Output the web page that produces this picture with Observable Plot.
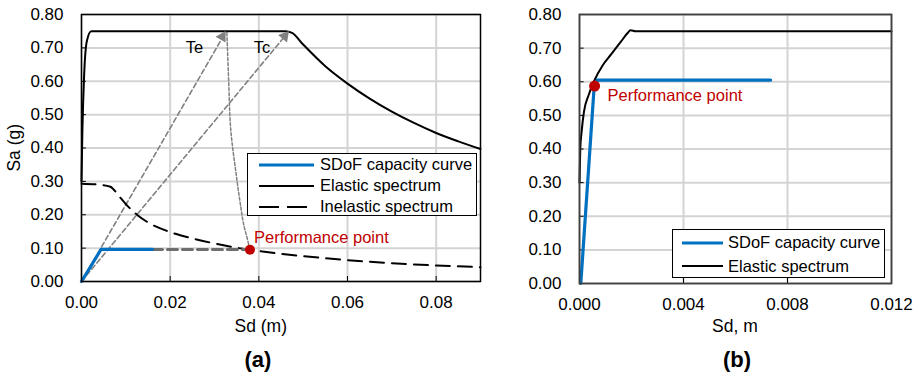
<!DOCTYPE html>
<html>
<head>
<meta charset="utf-8">
<script src="https://cdn.jsdelivr.net/npm/d3@7"></script>
<script src="https://cdn.jsdelivr.net/npm/@observablehq/plot@0.6"></script>
<style>
  html, body { margin: 0; padding: 0; background: #fff; }
  #wrap { position: relative; width: 921px; height: 377px; font-family: "Liberation Sans", Arial, sans-serif; color: #000; overflow: hidden; }
  #wrap > svg { position: absolute; top: 0; }
  .lbl { position: absolute; white-space: nowrap; font-size: 17px; line-height: 1; }
  .legend { position: absolute; border: 1.5px solid #000; background: #fff; box-sizing: border-box; }
  .legend .row { position: absolute; left: 0; height: 20px; display: flex; align-items: center; font-size: 16.5px; white-space: nowrap; }
</style>
</head>
<body>
<div id="wrap"></div>
<script>
// ---------- shared ----------
const yTicks = [0, 0.1, 0.2, 0.3, 0.4, 0.5, 0.6, 0.7, 0.8];
const xTicksA = [0, 0.02, 0.04, 0.06, 0.08];
const xTicksB = [0, 0.004, 0.008, 0.012];

// ---------- Panel (a) data ----------
const elasticA_sd = [0, 0.0002, 0.0006, 0.0012, 0.0022, 0.046, 0.0475, 0.05, 0.055, 0.06, 0.065, 0.07, 0.075, 0.08, 0.085, 0.09];
const elasticA_sa = [0.30, 0.45, 0.62, 0.72, 0.75, 0.75, 0.745, 0.71, 0.645, 0.593, 0.548, 0.509, 0.475, 0.445, 0.42, 0.397];

const inelasticA_sd = [0, 0.004, 0.0065, 0.0085, 0.01, 0.0125, 0.015, 0.02, 0.025, 0.03, 0.035, 0.038, 0.045, 0.05, 0.06, 0.07, 0.08, 0.09];
const inelasticA_sa = [0.293, 0.29, 0.284, 0.255, 0.232, 0.20, 0.177, 0.148, 0.129, 0.114, 0.101, 0.095, 0.083, 0.076, 0.064, 0.055, 0.048, 0.043];

const capA_sd = [0, 0.0044, 0.016];
const capA_sa = [0, 0.096, 0.096];

const capExtA_sd = [0.016, 0.038];
const capExtA_sa = [0.096, 0.096];

const teLine_sd = [0, 0.0322];
const teLine_sa = [0, 0.74];
const tcLine_sd = [0, 0.0462];
const tcLine_sa = [0, 0.74];
const heads_sd = [0.03175, 0.04584];
const heads_sa = [0.7335, 0.7353];
const heads_angle = [30, 40];

const tePP_sd = [0.0328, 0.0332, 0.0337, 0.0348, 0.0358, 0.0366, 0.0374, 0.038];
const tePP_sa = [0.745, 0.60, 0.45, 0.33, 0.235, 0.17, 0.128, 0.095];

const ppA = [{sd: 0.038, sa: 0.095}];
const periodLabels = [{name: "Te", sd: 0.0255, sa: 0.70}, {name: "Tc", sd: 0.0407, sa: 0.70}];

// ---------- Panel (b) data ----------
const elasticB_sd = [0, 0.00003, 0.00008, 0.00017, 0.00035, 0.00055, 0.0009, 0.0012, 0.0016, 0.00185, 0.00196, 0.00216, 0.012];
const elasticB_sa = [0.30, 0.40, 0.45, 0.51, 0.56, 0.60, 0.65, 0.68, 0.72, 0.745, 0.753, 0.75, 0.75];

const capB_sd = [0.00005, 0.00055, 0.00068, 0.00735];
const capB_sa = [0, 0.57, 0.605, 0.605];

const ppB = [{sd: 0.00058, sa: 0.587}];

const zip = (xs, ys) => xs.map((x, i) => ({sd: x, sa: ys[i]}));

const BLUE = "#0070C0", RED = "#C00000", GREY = "#808080", GRID = "#d4d4d4";
const font = "'Liberation Sans', Arial, sans-serif";

// ---------- Panel (a) ----------
const plotA = Plot.plot({
  width: 490, height: 377,
  marginLeft: 81, marginRight: 10, marginTop: 14, marginBottom: 96,
  style: {fontFamily: font, fontSize: "17px", color: "#000"},
  x: {domain: [0, 0.09]},
  y: {domain: [0, 0.8]},
  marks: [
    Plot.ruleX(xTicksA, {x: d => d, stroke: GRID, strokeWidth: 2}),
    Plot.ruleY(yTicks, {y: d => d, stroke: GRID, strokeWidth: 2}),
    Plot.axisY({ticks: yTicks, tickSize: 0, tickPadding: 18, tickFormat: d3.format(".2f"), label: null, fontSize: 17}),
    Plot.axisX({ticks: xTicksA, tickSize: 0, tickPadding: 14, tickFormat: d3.format(".2f"), label: null, fontSize: 17}),
    Plot.ruleY(yTicks, {y: d => d, x1: 0, x2: 0.0011, stroke: "#000", strokeWidth: 1}),
    Plot.ruleX(xTicksA, {x: d => d, y1: 0, y2: 0.015, stroke: "#000", strokeWidth: 1}),
    Plot.line(zip(teLine_sd, teLine_sa), {x: "sd", y: "sa", stroke: GREY, strokeWidth: 1.6, strokeDasharray: "5,3"}),
    Plot.line(zip(tcLine_sd, tcLine_sa), {x: "sd", y: "sa", stroke: GREY, strokeWidth: 1.6, strokeDasharray: "5,3"}),
    Plot.line(zip(tePP_sd, tePP_sa), {x: "sd", y: "sa", stroke: GREY, strokeWidth: 1.5, strokeDasharray: "3,2", curve: "monotone-y"}),
    Plot.line(zip(elasticA_sd, elasticA_sa), {x: "sd", y: "sa", stroke: "#000", strokeWidth: 2, curve: "monotone-x"}),
    Plot.line(zip(inelasticA_sd, inelasticA_sa), {x: "sd", y: "sa", stroke: "#000", strokeWidth: 2, strokeDasharray: "14,8", curve: "monotone-x"}),
    Plot.line(zip(capExtA_sd, capExtA_sa), {x: "sd", y: "sa", stroke: "#6e6e6e", strokeWidth: 3, strokeDasharray: "10,5"}),
    Plot.line(zip(capA_sd, capA_sa), {x: "sd", y: "sa", stroke: BLUE, strokeWidth: 3.2}),
    Plot.dot(heads_sd.map((s, i) => ({sd: s, sa: heads_sa[i], a: heads_angle[i]})), {x: "sd", y: "sa", symbol: "triangle", r: 4.3, fill: GREY, stroke: "none", rotate: "a"}),
    Plot.dot(ppA, {x: "sd", y: "sa", r: 5, fill: RED, stroke: "none"}),
    Plot.text(periodLabels, {x: "sd", y: "sa", text: "name", fontSize: 16.5, fill: "#000", textAnchor: "middle"}),
    Plot.text(ppA, {x: "sd", y: "sa", text: () => "Performance point", dx: 4, dy: -12, textAnchor: "start", fill: RED, fontSize: 16.5}),
    Plot.frame({stroke: "#000", strokeWidth: 1.5})
  ]
});
plotA.style.left = "0px";

// ---------- Panel (b) ----------
const plotB = Plot.plot({
  width: 431, height: 377,
  marginLeft: 89, marginRight: 30, marginTop: 14, marginBottom: 94,
  style: {fontFamily: font, fontSize: "17px", color: "#000"},
  x: {domain: [0, 0.012]},
  y: {domain: [0, 0.8]},
  marks: [
    Plot.ruleX(xTicksB, {x: d => d, stroke: GRID, strokeWidth: 2}),
    Plot.ruleY(yTicks, {y: d => d, stroke: GRID, strokeWidth: 2}),
    Plot.axisY({ticks: yTicks, tickSize: 0, tickPadding: 18, tickFormat: d3.format(".2f"), label: null, fontSize: 17}),
    Plot.axisX({ticks: xTicksB, tickSize: 0, tickPadding: 14, tickFormat: d3.format(".3f"), label: null, fontSize: 17}),
    Plot.ruleY(yTicks, {y: d => d, x1: 0, x2: 0.00018, stroke: "#000", strokeWidth: 1}),
    Plot.ruleX(xTicksB, {x: d => d, y1: 0, y2: 0.015, stroke: "#000", strokeWidth: 1}),
    Plot.line(zip(elasticB_sd, elasticB_sa), {x: "sd", y: "sa", stroke: "#000", strokeWidth: 2, curve: "monotone-x"}),
    Plot.line(zip(capB_sd, capB_sa), {x: "sd", y: "sa", stroke: BLUE, strokeWidth: 3.2}),
    Plot.dot(ppB, {x: "sd", y: "sa", r: 5.5, fill: RED, stroke: "none"}),
    Plot.text(ppB, {x: "sd", y: "sa", text: () => "Performance point", dx: 13, dy: 10, textAnchor: "start", fill: RED, fontSize: 16.5}),
    Plot.frame({stroke: "#404040", strokeWidth: 1.8})
  ]
});
plotB.style.left = "490px";

const wrap = document.getElementById("wrap");
wrap.appendChild(plotA);
wrap.appendChild(plotB);

function addLabel(text, left, top, extra) {
  const d = document.createElement("div");
  d.className = "lbl";
  d.textContent = text;
  d.style.left = left + "px";
  d.style.top = top + "px";
  if (extra) Object.assign(d.style, extra);
  wrap.appendChild(d);
  return d;
}
function centerLabel(text, cx, cy, extra) {
  const d = addLabel(text, 0, 0, extra);
  const w = d.offsetWidth, h = d.offsetHeight;
  d.style.left = (cx - w / 2) + "px";
  d.style.top = (cy - h / 2) + "px";
  return d;
}
centerLabel("Sd (m)", 261, 327, {fontSize: "17.5px"});
centerLabel("Sd, m", 735, 327, {fontSize: "17.5px"});
centerLabel("(a)", 258, 360, {fontSize: "22px", fontWeight: "bold"});
centerLabel("(b)", 737, 360, {fontSize: "22px", fontWeight: "bold"});
const ya = centerLabel("Sa (g)", 15, 148, {fontSize: "17.5px"});
ya.style.transform = "rotate(-90deg)";

// ---------- Legends ----------
const legendA = [
  {label: "SDoF capacity curve", stroke: BLUE, width: 3.2, dash: null},
  {label: "Elastic spectrum", stroke: "#000", width: 2, dash: null},
  {label: "Inelastic spectrum", stroke: "#000", width: 2, dash: "20,8"}
];
const legendB = [
  {label: "SDoF capacity curve", stroke: BLUE, width: 3.2, dash: null},
  {label: "Elastic spectrum", stroke: "#000", width: 2, dash: null}
];
function addLegend(items, box, rowTops, sampleX0, sampleX1, textX) {
  const L = document.createElement("div");
  L.className = "legend";
  Object.assign(L.style, {left: box.x + "px", top: box.y + "px", width: box.w + "px", height: box.h + "px"});
  items.forEach((it, i) => {
    const r = document.createElement("div");
    r.className = "row";
    r.style.top = (rowTops[i] - box.y - 10) + "px";
    const ns = "http://www.w3.org/2000/svg";
    const s = document.createElementNS(ns, "svg");
    s.setAttribute("width", sampleX1 - box.x);
    s.setAttribute("height", 20);
    s.style.flex = "none";
    const ln = document.createElementNS(ns, "line");
    ln.setAttribute("x1", sampleX0 - box.x); ln.setAttribute("x2", sampleX1 - box.x);
    ln.setAttribute("y1", 10); ln.setAttribute("y2", 10);
    ln.setAttribute("stroke", it.stroke); ln.setAttribute("stroke-width", it.width);
    if (it.dash) ln.setAttribute("stroke-dasharray", it.dash);
    s.appendChild(ln);
    r.appendChild(s);
    const t = document.createElement("span");
    t.textContent = it.label;
    t.style.marginLeft = (textX - sampleX1) + "px";
    r.appendChild(t);
    L.appendChild(r);
  });
  wrap.appendChild(L);
}
addLegend(legendA, {x: 247, y: 153, w: 230, h: 63}, [163.5, 184.5, 205.5], 258, 313, 319);
addLegend(legendB, {x: 672, y: 229, w: 213, h: 49}, [241.5, 265], 681, 722, 727);
</script>
</body>
</html>
